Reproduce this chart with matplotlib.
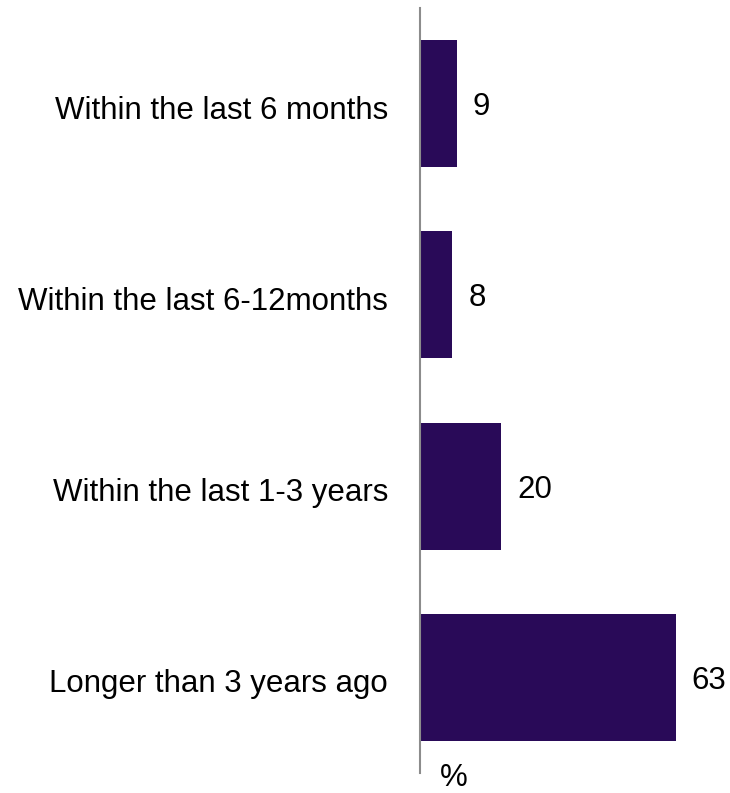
import matplotlib.pyplot as plt
import matplotlib.transforms as mtransforms

plt.rcParams['font.family'] = ['Liberation Sans', 'DejaVu Sans']

categories = ['Within the last 6 months', 'Within the last 6-12months',
              'Within the last 1-3 years', 'Longer than 3 years ago']
values = [9, 8, 20, 63]
bar_color = '#290a58'

fig = plt.figure(figsize=(7.3, 7.93), dpi=100)
ax = fig.add_axes([420 / 730, (793 - 773) / 793, 310 / 730, 765 / 793])

ypos = list(range(len(categories)))
ax.barh(ypos, values, height=0.665, color=bar_color)
ax.set_ylim(len(categories) - 0.5, -0.5)
ax.set_xlim(0, 310 / 4.06)

for y, v in zip(ypos, values):
    ax.annotate(str(v), (v, y), xytext=(11.5, -2.5), textcoords='offset points',
                va='center', ha='left', fontsize=22.5)

ax.set_yticks(ypos)
ax.set_yticklabels(categories, fontsize=22.5)
ax.tick_params(axis='y', length=0, pad=21)
# nudge category labels down a little, like the original
shift = mtransforms.ScaledTranslation(-2 / 72, -2.5 / 72, fig.dpi_scale_trans)
for lbl in ax.get_yticklabels():
    lbl.set_transform(lbl.get_transform() + shift)
ax.set_xticks([])

for s in ['top', 'right', 'bottom']:
    ax.spines[s].set_visible(False)
ax.spines['left'].set_color('#8c8c8c')
ax.spines['left'].set_linewidth(1.5)

fig.text(454 / 730, 1 - 778 / 793, '%', ha='center', va='center', fontsize=22.5)

fig.savefig('out.png', dpi=100)
